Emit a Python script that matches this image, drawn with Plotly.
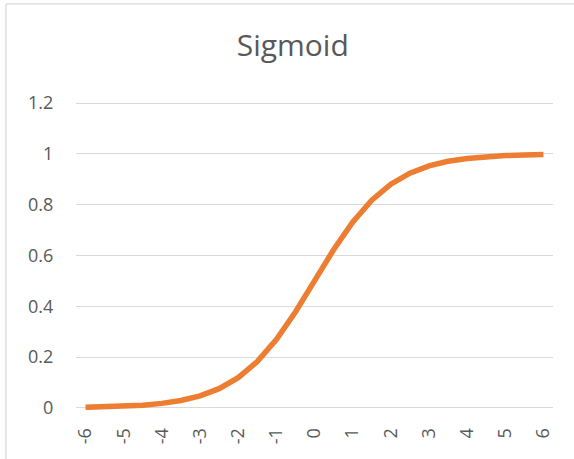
import plotly.graph_objects as go

x_values = [-6, -5.5, -5, -4.5, -4, -3.5, -3, -2.5, -2, -1.5, -1, -0.5, 0,
            0.5, 1, 1.5, 2, 2.5, 3, 3.5, 4, 4.5, 5, 5.5, 6]
y_values = [0.0025, 0.0041, 0.0067, 0.011, 0.018, 0.0293, 0.0474, 0.0759, 0.1192,
            0.1824, 0.2689, 0.3775, 0.5, 0.6225, 0.7311, 0.8176, 0.8808, 0.9241,
            0.9526, 0.9707, 0.982, 0.989, 0.9933, 0.9959, 0.9975]
x_ticks = [-6, -5, -4, -3, -2, -1, 0, 1, 2, 3, 4, 5, 6]
y_ticks = [0, 0.2, 0.4, 0.6, 0.8, 1, 1.2]
y_tick_labels = ["0", "0.2", "0.4", "0.6", "0.8", "1", "1.2"]

fig = go.Figure()
fig.add_trace(go.Scatter(x=x_values, y=y_values, mode="lines",
                         line=dict(color="#ED7D31", width=5.5), hoverinfo="skip"))

font_family = "'Open Sans', Lato, sans-serif"
fig.update_layout(
    width=574, height=459,
    margin=dict(l=76, r=21, t=101, b=49),
    paper_bgcolor="white", plot_bgcolor="white",
    showlegend=False,
    title=dict(text="Sigmoid", x=0.51, xanchor="center", y=0.9, yanchor="middle",
               xref="container", yref="container",
               font=dict(family=font_family, size=30, color="#595959")),
    xaxis=dict(range=[-6.25, 6.25], tickvals=x_ticks, ticktext=[str(v) for v in x_ticks],
               tickangle=-90, showgrid=False, zeroline=False, showline=False,
               ticks="outside", ticklen=10, tickcolor="rgba(0,0,0,0)",
               tickfont=dict(family=font_family, size=18, color="#595959")),
    yaxis=dict(range=[-0.008, 1.208], tickvals=y_ticks, ticktext=y_tick_labels,
               showgrid=True, gridcolor="#D9D9D9", gridwidth=1.3, zeroline=False,
               showline=False, ticks="outside", ticklen=18, tickcolor="rgba(0,0,0,0)",
               tickfont=dict(family=font_family, size=18, color="#595959")),
    shapes=[
        dict(type="line", xref="paper", yref="paper", x0=-0.1468, x1=1.2, y0=1.3140, y1=1.3140,
             line=dict(color="#D9D9D9", width=1.3)),
        dict(type="line", xref="paper", yref="paper", x0=-0.1468, x1=-0.1468, y0=1.3140, y1=-0.3,
             line=dict(color="#D9D9D9", width=1.3)),
    ],
)
fig.write_html("out.html", config={"displayModeBar": False},
               post_script="document.body.style.margin='0';")
